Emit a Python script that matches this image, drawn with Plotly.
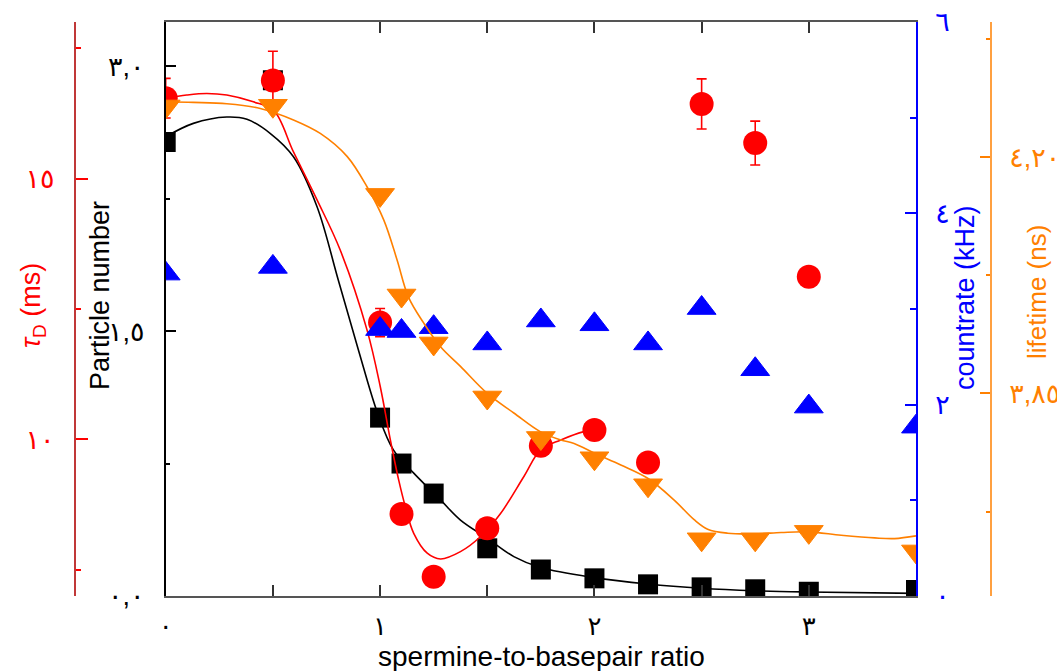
import plotly.graph_objects as go

# ---- measured series -------------------------------------------------------
ratio = [0, 0.5, 1.0, 1.1, 1.25, 1.5, 1.75, 2.0, 2.25, 2.5, 2.75, 3.0, 3.5]

particle_number = [2.57, 2.92, 1.01, 0.75, 0.58, 0.27, 0.15, 0.10, 0.066,
                   0.049, 0.038, 0.024, 0.034]

tau_ratio = [0, 0.5, 1.0, 1.1, 1.25, 1.5, 1.75, 2.0, 2.25, 2.5, 2.75, 3.0]
tau_d = [16.54, 16.88, 12.24, 8.57, 7.37, 8.30, 9.88, 10.18, 9.56,
         16.43, 15.68, 13.12]
tau_err = [0.38, 0.56, 0.27, 0, 0, 0, 0, 0, 0, 0.48, 0.42, 0]

countrate = [3.37, 3.44, 2.79, 2.77, 2.81, 2.64, 2.88, 2.84, 2.64,
             3.01, 2.37, 1.98, 1.77]

lifetime = [4.275, 4.276, 4.144, 3.995, 3.924, 3.844, 3.784, 3.754, 3.714,
            3.634, 3.634, 3.645, 3.616]

# ---- smooth guide curves ---------------------------------------------------
pn_fit_x = [0, 0.129, 0.285, 0.379, 0.487, 0.596, 0.706, 0.805, 0.899, 0.988,
            1.062, 1.157, 1.282, 1.375, 1.5, 1.624, 1.749, 1.998, 2.248,
            2.498, 2.746, 2.995, 3.5]
pn_fit_y = [2.60, 2.676, 2.712, 2.699, 2.62, 2.487, 2.204, 1.789, 1.393,
            1.036, 0.827, 0.696, 0.544, 0.43, 0.327, 0.223, 0.161, 0.104,
            0.068, 0.044, 0.030, 0.023, 0.015]

tau_fit_x = [0, 0.098, 0.192, 0.285, 0.409, 0.503, 0.596, 0.706, 0.814,
             0.939, 1.001, 1.048, 1.087, 1.118, 1.157, 1.22, 1.282,
             1.375, 1.469, 1.562, 1.671, 1.749, 1.843, 1.951, 2.003]
tau_fit_y = [16.54, 16.60, 16.63, 16.60, 16.47, 16.31, 15.51, 14.59, 13.63,
             12.10, 11.01, 9.99, 9.22, 8.71, 8.20, 7.82, 7.71, 7.85,
             8.14, 8.58, 9.29, 9.80, 9.99, 10.15, 10.18]

lt_fit_x = [0, 0.129, 0.285, 0.441, 0.596, 0.721, 0.846, 0.939, 1.017,
            1.079, 1.132, 1.204, 1.282, 1.375, 1.5, 1.624, 1.749, 1.843,
            1.905, 2.003, 2.123, 2.25, 2.372, 2.465, 2.528, 2.621, 2.746,
            2.871, 2.995, 3.151, 3.307, 3.4, 3.5]
lt_fit_y = [4.282, 4.281, 4.279, 4.272, 4.255, 4.235, 4.201, 4.156, 4.107,
            4.048, 3.993, 3.954, 3.919, 3.890, 3.850, 3.821, 3.793, 3.781,
            3.776, 3.761, 3.744, 3.724, 3.692, 3.663, 3.649, 3.643, 3.642,
            3.644, 3.645, 3.640, 3.636, 3.635, 3.639]

# ---- tick labels -----------------------------------------------------------
x_tickvals = [0, 1, 2, 3]
x_ticktext = ["٠", "١", "٢", "٣"]
pn_tickvals = [0, 1.5, 3.0]
pn_ticktext = ["٠,٠", "١,٥", "٣,٠"]
tau_tickvals = [10, 15]
tau_ticktext = ["١٠", "١٥"]
cr_tickvals = [0, 2, 4, 6]
cr_ticktext = ["٠", "٢", "٤", "٦"]
lt_tickvals = [3.85, 4.20]
lt_ticktext = ["٣,٨٥", "٤,٢٠"]

RED = "#ff0000"
BLUE = "#0000ff"
ORANGE = "#ff8000"
FONT = "Arial, Liberation Sans, DejaVu Sans, sans-serif"

# figure geometry (pixels)
W, H = 1057, 671
ML, MR, MT, MB = 75, 66, 22, 75
paper_w = W - ML - MR
plot_left, plot_right = 165.7, 916
x_domain = [(plot_left - ML) / paper_w, (plot_right - ML) / paper_w]

fig = go.Figure()

# particle number (black)
fig.add_trace(go.Scatter(x=pn_fit_x, y=pn_fit_y, mode="lines",
                         line=dict(color="black", width=1.6, shape="spline"),
                         xaxis="x", yaxis="y", showlegend=False))
fig.add_trace(go.Scatter(x=ratio, y=particle_number, mode="markers",
                         marker=dict(symbol="square", size=20, color="black"),
                         xaxis="x", yaxis="y", showlegend=False))

# diffusion time (red)
fig.add_trace(go.Scatter(x=tau_fit_x, y=tau_fit_y, mode="lines",
                         line=dict(color=RED, width=1.6, shape="spline"),
                         xaxis="x", yaxis="y2", showlegend=False))
fig.add_trace(go.Scatter(x=tau_ratio, y=tau_d, mode="markers",
                         marker=dict(symbol="circle", size=24, color=RED),
                         error_y=dict(type="data", array=tau_err, color=RED,
                                      thickness=1.6, width=5),
                         xaxis="x", yaxis="y2", showlegend=False))

# count rate (blue)
fig.add_trace(go.Scatter(x=ratio, y=countrate, mode="markers",
                         marker=dict(symbol="triangle-up", size=25, color=BLUE,
                                     line=dict(color=BLUE, width=1)),
                         xaxis="x", yaxis="y3", showlegend=False))

# lifetime (orange)
fig.add_trace(go.Scatter(x=lt_fit_x, y=lt_fit_y, mode="lines",
                         line=dict(color=ORANGE, width=1.6, shape="spline"),
                         xaxis="x", yaxis="y4", showlegend=False))
fig.add_trace(go.Scatter(x=ratio, y=lifetime, mode="markers",
                         marker=dict(symbol="triangle-down", size=25, color=ORANGE,
                                     line=dict(color=ORANGE, width=1)),
                         xaxis="x", yaxis="y4", showlegend=False))

common = dict(showgrid=False, zeroline=False, showline=True, ticks="inside",
              automargin=False)

fig.update_layout(
    width=W, height=H,
    margin=dict(l=ML, r=MR, t=MT, b=MB, pad=0, autoexpand=False),
    paper_bgcolor="white", plot_bgcolor="white",
    font=dict(family=FONT, color="black"),
    xaxis=dict(**common, domain=x_domain, range=[0, 3.5], anchor="y",
               linecolor="#555555", linewidth=1.5, mirror="allticks",
               tickcolor="#333333", ticklen=11, tickwidth=1.5,
               tickvals=x_tickvals, ticktext=x_ticktext,
               tickfont=dict(size=26, color="black"), ticklabelstandoff=6,
               minor=dict(dtick=0.5, ticks="inside", ticklen=9,
                          tickcolor="#333333", tickwidth=1.5)),
    yaxis=dict(**common, range=[0, 3.25], anchor="x", side="left",
               linecolor="black", linewidth=1.5, tickcolor="black",
               ticklen=11, tickwidth=1.5,
               tickvals=pn_tickvals, ticktext=pn_ticktext,
               tickfont=dict(size=27, color="black"), ticklabelstandoff=14,
               minor=dict(dtick=0.75, ticks="inside", ticklen=5,
                          tickcolor="black", tickwidth=1.5)),
    yaxis2=dict(**common, range=[7, 18], overlaying="y", anchor="free",
                position=0, side="left", linecolor="#c03838", linewidth=2,
                tickcolor=RED, ticklen=12, tickwidth=1.5,
                tickvals=tau_tickvals, ticktext=tau_ticktext,
                tickfont=dict(size=27, color=RED), ticklabelstandoff=14,
                minor=dict(dtick=2.5, ticks="inside", ticklen=5,
                           tickcolor=RED, tickwidth=1.5)),
    yaxis3=dict(**common, range=[0, 6], overlaying="y", anchor="x",
                side="right", linecolor=BLUE, linewidth=1.5,
                tickcolor=BLUE, ticklen=11, tickwidth=1.5,
                tickvals=cr_tickvals, ticktext=cr_ticktext,
                tickfont=dict(size=27, color=BLUE), ticklabelstandoff=12,
                minor=dict(dtick=1, ticks="inside", ticklen=6,
                           tickcolor=BLUE, tickwidth=1.5)),
    yaxis4=dict(**common, range=[3.55, 4.40], overlaying="y", anchor="free",
                position=1, side="right", linecolor="#ffa040", linewidth=1.5,
                tickcolor=ORANGE, ticklen=10, tickwidth=1.5,
                tickvals=lt_tickvals, ticktext=lt_ticktext,
                tickfont=dict(size=27, color=ORANGE), ticklabelstandoff=12,
                minor=dict(tick0=3.85, dtick=0.175, ticks="inside", ticklen=4,
                           tickcolor=ORANGE, tickwidth=1.5)),
)


def px_to_paper(px, py):
    return (px - ML) / paper_w, (H - MB - py) / (H - MT - MB)


titles = [
    ("spermine-to-basepair ratio", 541, 656, 0, "black", 28),
    ("Particle number", 100, 296, -90, "black", 27),
    ("<i>τ</i><sub>D</sub> (ms)", 33, 306, -90, RED, 27),
    ("countrate (kHz)", 965, 298, -90, BLUE, 27),
    ("lifetime (ns)", 1037, 292, -90, ORANGE, 26),
]
for text, px, py, ang, col, size in titles:
    ax, ay = px_to_paper(px, py)
    fig.add_annotation(text=text, x=ax, y=ay, xref="paper", yref="paper",
                       xanchor="center", yanchor="middle", showarrow=False,
                       textangle=ang, font=dict(size=size, color=col, family=FONT))

fig.write_html("out.html")
